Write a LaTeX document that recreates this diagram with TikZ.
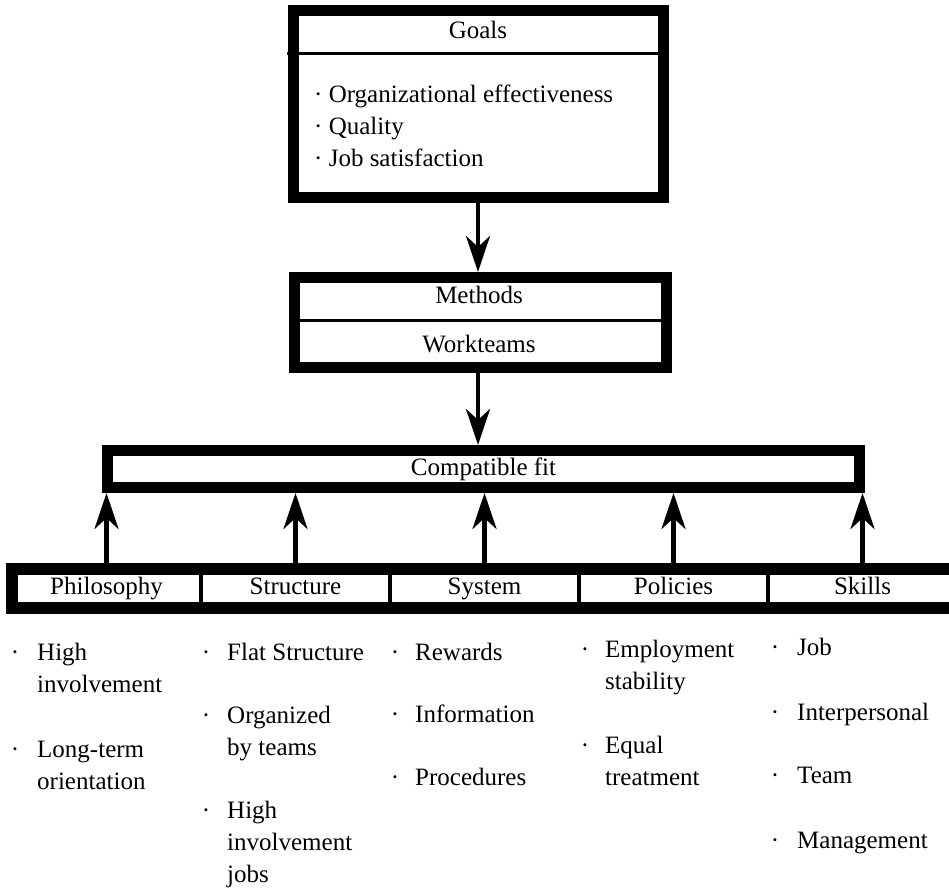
\documentclass[tikz,border=0pt]{standalone}
\usepackage{fontspec}
\setmainfont{Liberation Serif}
\usetikzlibrary{arrows.meta}

\begin{document}
\begin{tikzpicture}[x=1pt, y=-1pt,
  every node/.style={font=\fontsize{25}{32}\selectfont, inner sep=0pt},
  frame/.style={draw, line width=11pt},
  cell/.style={draw, line width=4pt, outer sep=0pt, minimum width=189pt, minimum height=39pt, text height=17pt, text depth=5pt},
  flow/.style={line width=4.5pt, -{Stealth[length=36pt, width=24pt, inset=11pt]}}]

\useasboundingbox (0,0) rectangle (949,890);
\clip (0,0) rectangle (949,890);

\node[frame, minimum width=370pt, minimum height=187pt] (goals) at (478,104) {};
\draw[line width=3pt] (287,53.5) -- (669,53.5);
\node[anchor=base] (goalstitle) at (478,39) {Goals};
% base of a multi-line node is its last line
\node[anchor=base west, align=left] (goalslist) at (314,167) {· Organizational effectiveness\\· Quality\\· Job satisfaction};

\node[frame, minimum width=372pt, minimum height=90pt] (methods) at (480,322.5) {};
\draw[line width=3pt] (289,320) -- (671,320);
\node[anchor=base] (methodstitle) at (479,303) {Methods};
\node[anchor=base] (workteams) at (479,352) {Workteams};

\node[frame, minimum width=752pt, minimum height=37pt] (fit) at (483.5,469) {Compatible fit};

\draw[flow] (goals.south) -- (goals.south |- methods.north);
\draw[flow] (goals.south |- methods.south) -- (goals.south |- fit.north);

\foreach \name/\lbl [count=\i] in {phil/Philosophy, struc/Structure, sys/System, pol/Policies, skill/Skills}
{
  \node[cell] (\name) at ({12+189*(\i-0.5)},588) {\lbl};
  \draw[flow] (\name.north) -- (\name.north |- fit.south);
}
\draw[line width=12pt] (phil.north west) rectangle (skill.south east);

\foreach \bx/\tx/\by/\n/\txt [count=\k] in {
  15/37/660/2/{High\\involvement}, 15/37/757/2/{Long-term\\orientation},
  206/227/660/1/{Flat Structure}, 206/227/723/2/{Organized\\by teams}, 206/227/818/3/{High\\involvement\\jobs},
  395/415/660/1/{Rewards}, 395/415/722/1/{Information}, 395/415/785/1/{Procedures},
  585/605/657/2/{Employment\\stability}, 585/605/753/2/{Equal\\treatment},
  775/797/655/1/{Job}, 775/797/720/1/{Interpersonal}, 775/797/783/1/{Team}, 775/797/848/1/{Management}}
{
  \node[anchor=base] (dot\k) at (\bx,\by) {·};
  \node[anchor=base west, align=left] (item\k) at (\tx,{\by+32*(\n-1)}) {\txt};
}

\end{tikzpicture}
\end{document}
